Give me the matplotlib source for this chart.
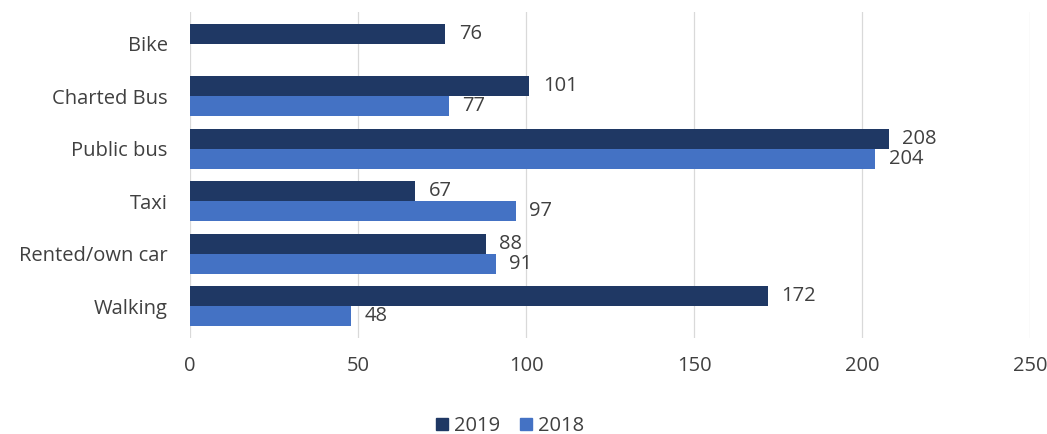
import matplotlib

matplotlib.use("Agg")
import matplotlib.pyplot as plt
import numpy as np

DARK = "#1F3864"
LIGHT = "#4472C4"
GRID = "#D9D9D9"
INK = "#404040"

categories = ["Bike", "Charted Bus", "Public bus", "Taxi", "Rented/own car", "Walking"]
vals_2019 = [76, 101, 208, 67, 88, 172]
vals_2018 = [None, 77, 204, 97, 91, 48]
xticks = [0, 50, 100, 150, 200, 250]

plt.rcParams["font.family"] = ["Open Sans", "DejaVu Sans"]
FS = 14.5

fig = plt.figure(figsize=(10.47, 4.34), dpi=100)
ax = fig.add_axes([190 / 1047, 1 - 338 / 434, 840 / 1047, 326 / 434])

y = np.arange(len(categories))
h = 0.38
for i, (a, b) in enumerate(zip(vals_2019, vals_2018)):
    ax.barh(y[i] - h / 2, a, height=h, color=DARK, zorder=3)
    ax.text(a + 4, y[i] - h / 2, f"{a}", va="center", ha="left", fontsize=FS, color=INK)
    if b is not None:
        ax.barh(y[i] + h / 2, b, height=h, color=LIGHT, zorder=3)
        ax.text(b + 4, y[i] + h / 2, f"{b}", va="center", ha="left", fontsize=FS, color=INK)

ax.set_xlim(0, 250)
ax.set_ylim(5.6, -0.6)
ax.set_yticks(y)
ax.set_yticklabels(categories)
ax.set_xticks(xticks)
ax.tick_params(axis="both", length=0, labelsize=FS, colors=INK)
ax.tick_params(axis="x", pad=13)
ax.tick_params(axis="y", pad=16)
ax.grid(axis="x", color=GRID, linewidth=0.9, zorder=0)
for spine in ax.spines.values():
    spine.set_visible(False)

handles = [plt.Rectangle((0, 0), 1, 1, color=DARK), plt.Rectangle((0, 0), 1, 1, color=LIGHT)]
fig.legend(handles, ["2019", "2018"], loc="center", bbox_to_anchor=(510 / 1047, 1 - 426 / 434),
           ncol=2, frameon=False, fontsize=FS, handlelength=0.6, handleheight=0.6,
           handletextpad=0.3, columnspacing=1.0, labelcolor=INK)

fig.savefig("out.png", dpi=100, facecolor="white")
